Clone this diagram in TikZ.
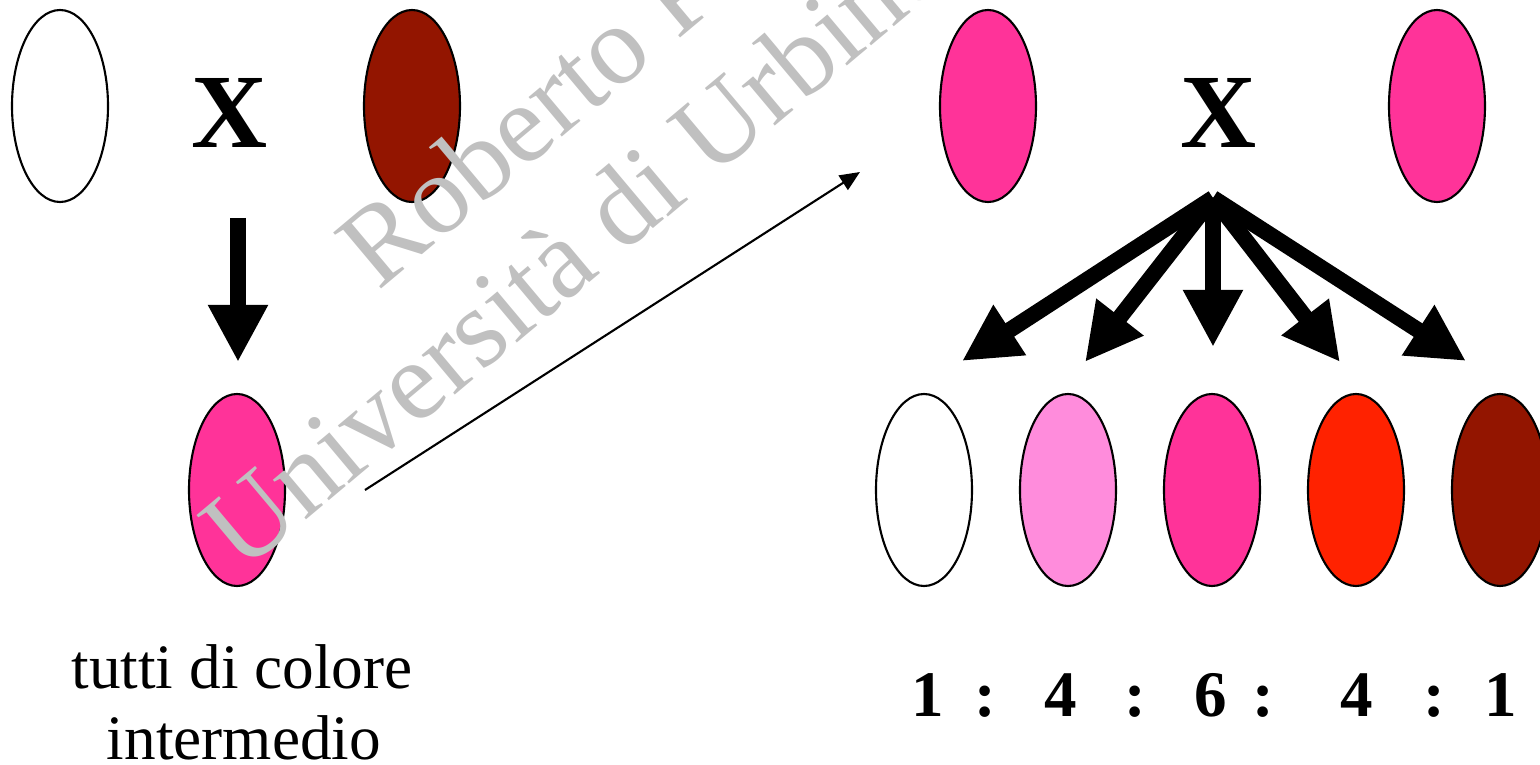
\documentclass[tikz,border=0pt]{standalone}
\usepackage{fontspec}
\setmainfont{Liberation Serif}
\usepackage{xcolor}
\usepackage{tikz}
\usetikzlibrary{arrows.meta, shapes.geometric, positioning}

\definecolor{pinkmid}{HTML}{FF3399}
\definecolor{pinklight}{HTML}{FF8CDC}
\definecolor{redhot}{HTML}{FF2200}
\definecolor{redbrown}{HTML}{931500}
\definecolor{wmgray}{HTML}{C0C0C0}

\begin{document}
\begin{tikzpicture}[
  pea/.style     = {ellipse, draw, line width=0.6pt, minimum width=0.96cm,
                    minimum height=1.92cm, inner sep=0pt},
  cross/.style   = {font=\fontsize{30}{36}\selectfont\bfseries,
                    inner sep=0pt, anchor=base},
  bigarr/.style  = {-{Triangle[length=0.57cm,width=0.56cm]}, line width=0.16cm},
  thinarr/.style = {-{Triangle[length=0.2cm,width=0.17cm]}, line width=0.6pt},
  ratio/.style   = {font=\fontsize{18.5}{22}\selectfont\bfseries,
                    inner sep=0pt, anchor=base},
  capt/.style    = {font=\fontsize{18}{21}\selectfont, inner sep=0pt, anchor=base},
  wm/.style      = {text=wmgray, font=\fontsize{32}{38}\selectfont, rotate=40,
                    anchor=base west, inner sep=0pt},
]
\useasboundingbox (0,0) rectangle (15.4,-7.65);
\clip (0,0) rectangle (15.4,-7.65);

%% ── parents and F1 ─────────────────────────────────────────────
\node[pea, fill=white]    (wA)   at (0.60,-1.06) {};
\node[cross]              (xA)   at (2.30,-1.47) {X};
\node[pea, fill=redbrown] (rA)   at (4.12,-1.06) {};
\node[pea, fill=pinkmid]  (mixA) at (2.37,-4.90) {};

\coordinate (dA1) at (2.38,-2.18);
\coordinate (dA2) at (2.38,-3.62);
\draw[bigarr] (dA1) -- (dA2);

\node[capt] (capA1) at (2.42,-6.88) {tutti di colore};
\node[capt] (capA2) at (2.44,-7.59) {intermedio};

\coordinate (thS) at (3.65,-4.90);
\coordinate (thE) at (8.60,-1.72);
\draw[thinarr] (thS) -- (thE);

%% ── F1 x F1 and F2 ─────────────────────────────────────────────
\node[pea, fill=pinkmid] (pB1) at (9.88,-1.06) {};
\node[cross]             (xB)  at (12.19,-1.47) {X};
\node[pea, fill=pinkmid] (pB2) at (14.37,-1.06) {};

\coordinate (fan) at (12.13,-1.98);
\coordinate (t1) at (9.62,-3.61);
\coordinate (t2) at (10.85,-3.62);
\coordinate (t3) at (12.13,-3.47);
\coordinate (t4) at (13.40,-3.62);
\coordinate (t5) at (14.66,-3.61);
\foreach \t in {t1,t2,t3,t4,t5}
  \draw[bigarr] (fan) -- (\t);

\node[pea, fill=white]     (f1) at (9.24,-4.90) {};
\node[pea, fill=pinklight] (f2) at (10.68,-4.90) {};
\node[pea, fill=pinkmid]   (f3) at (12.12,-4.90) {};
\node[pea, fill=redhot]    (f4) at (13.56,-4.90) {};
\node[pea, fill=redbrown]  (f5) at (15.00,-4.90) {};

\node[ratio] (n1) at (9.28,-7.16)  {1};
\node[ratio] (c1) at (9.85,-7.16)  {:};
\node[ratio] (n2) at (10.61,-7.16) {4};
\node[ratio] (c2) at (11.35,-7.16) {:};
\node[ratio] (n3) at (12.11,-7.16) {6};
\node[ratio] (c3) at (12.63,-7.16) {:};
\node[ratio] (n4) at (13.57,-7.16) {4};
\node[ratio] (c4) at (14.34,-7.16) {:};
\node[ratio] (n5) at (15.01,-7.16) {1};

%% ── watermark ──────────────────────────────────────────────────
\node[wm] (wm1) at (3.78,-2.92) {Roberto P};
\node[wm] (wm2) at (2.42,-5.74) {Università di Urbino};

\end{tikzpicture}
\end{document}
